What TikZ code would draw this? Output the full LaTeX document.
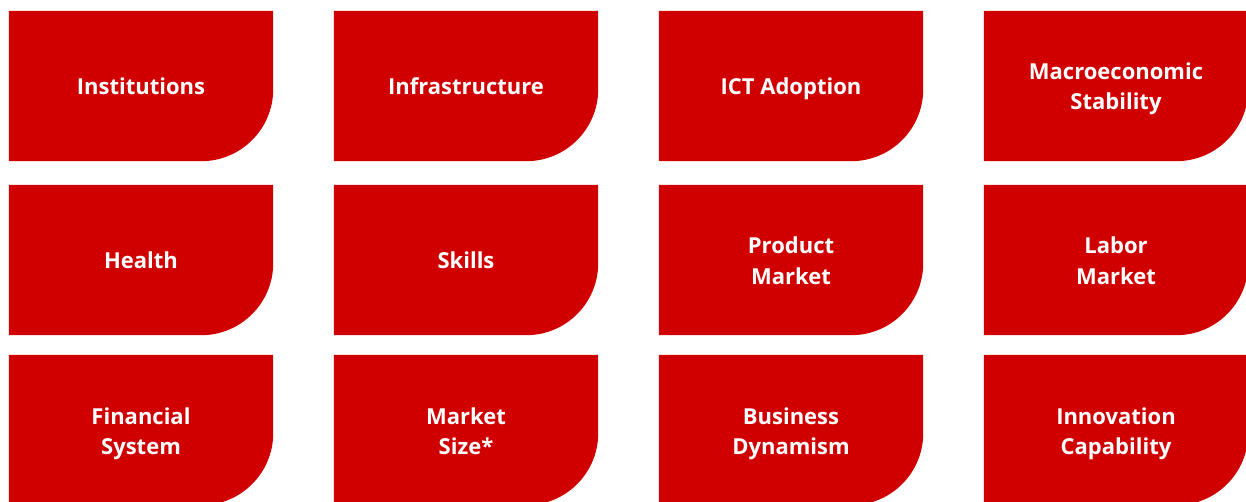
\documentclass[tikz,border=0pt]{standalone}
\usepackage{fontspec}
\setmainfont{Open Sans}
\usetikzlibrary{backgrounds}
\definecolor{boxred}{RGB}{208,0,0}
\tikzset{
  box/.style={minimum width=264pt, minimum height=150pt, inner sep=0pt,
    text=white, align=center, font=\fontsize{22}{30}\selectfont\bfseries,
    text height=17pt, text depth=0pt},
  boxtwo/.style={box, text height=48pt},
}
\begin{document}
\begin{tikzpicture}[x=1pt,y=-1pt]
\useasboundingbox (0,0) rectangle (1246,502);
\node[box] (b1)  at (141,86) {Institutions};
\node[box] (b2)  at (466,86) {Infrastructure};
\node[box] (b3)  at (791,86) {ICT Adoption};
\node[boxtwo] (b4)  at (1116,86) {Macroeconomic\\Stability};
\node[box] (b5)  at (141,260) {Health};
\node[box] (b6)  at (466,260) {Skills};
\node[boxtwo] (b7)  at (791,260) {Product\\Market};
\node[boxtwo] (b8)  at (1116,260) {Labor\\Market};
\node[boxtwo] (b9)  at (141,430) {Financial\\System};
\node[boxtwo] (b10) at (466,430) {Market\\Size*};
\node[boxtwo] (b11) at (791,430) {Business\\Dynamism};
\node[boxtwo] (b12) at (1116,430) {Innovation\\Capability};
\begin{scope}[on background layer]
\foreach \n in {b1,b2,b3,b4,b5,b6,b7,b8,b9,b10,b11,b12}{
  \fill[boxred] (\n.north west) -- (\n.north east) [rounded corners=72pt] -- (\n.south east) [sharp corners] -- (\n.south west) -- cycle;
}
\end{scope}
\end{tikzpicture}
\end{document}
